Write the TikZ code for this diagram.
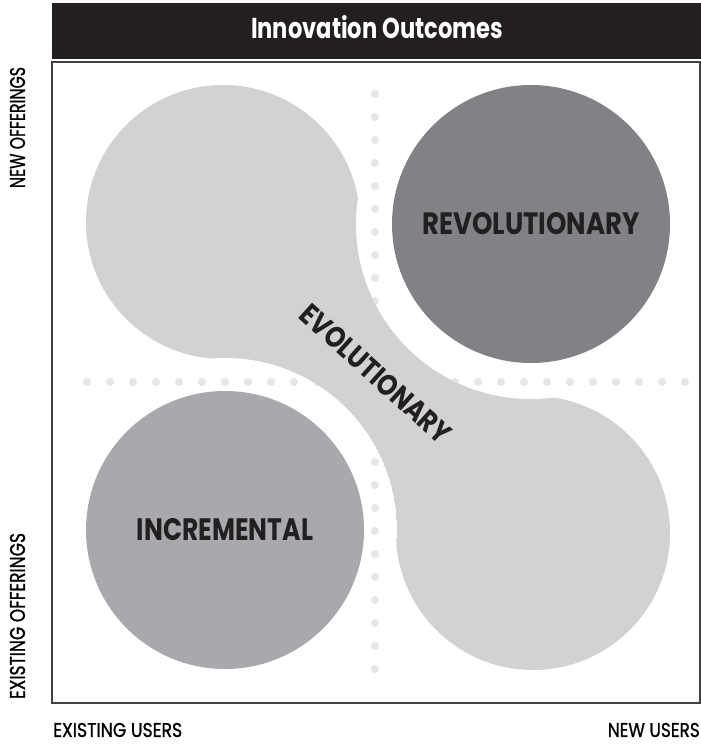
\documentclass[tikz,border=0pt]{standalone}
\usepackage{graphicx}
\usepackage{fontspec}
\setmainfont{Poppins}
\newfontfamily\axisfont{Poppins}[FakeBold=1.2]
\definecolor{ink}{HTML}{231F20}
\definecolor{framegrey}{HTML}{414042}
\definecolor{lightgrey}{HTML}{D1D2D4}
\definecolor{darkgrey}{HTML}{808285}
\definecolor{midgrey}{HTML}{A7A9AC}
\definecolor{dotgrey}{HTML}{E6E6E7}
\newcommand\griddots{%
  \foreach \k in {0,...,25} \fill[dotgrey] (375,94+23*\k) circle[radius=4];
  \foreach \k in {0,...,26} \fill[dotgrey] (87+23*\k,382) circle[radius=4];
}
\newcommand\fitto[3]{\resizebox{#1pt}{#2pt}{#3}}
\begin{document}
\begin{tikzpicture}[x=1pt,y=-1pt,
  lbl/.style={inner sep=0pt,text=ink},
  axislbl/.style={inner sep=0pt,text=black,font=\axisfont}]
\useasboundingbox (0,0) rectangle (701,744);
\coordinate (tl) at (223,222);
\coordinate (tr) at (531,224);
\coordinate (bl) at (225,530);
\coordinate (br) at (533,533);

% quadrant dividers
\griddots

% evolutionary band: two large discs joined by a neck
\fill[lightgrey] (tl) circle[radius=137];
\fill[lightgrey] (br) circle[radius=137];
\fill[lightgrey] (tl) -- (bl) -- (br) -- (tr) -- cycle;

% white halo around the two solid discs, dots show through it
\begin{scope}
  \clip (tr) circle[radius=175];
  \fill[white] (tr) circle[radius=175];
  \griddots
\end{scope}
\begin{scope}
  \clip (bl) circle[radius=172];
  \fill[white] (bl) circle[radius=172];
  \griddots
\end{scope}

\fill[darkgrey] (tr) circle[radius=139];
\fill[midgrey] (bl) circle[radius=139];

% frame and heading bar
\draw[framegrey,line width=1.3pt] (52,62) rectangle (700,703);
\fill[ink] (52,3) rectangle (701,59);
\node[inner sep=0pt,text=white] (title) at (377,27.5) {\fitto{252}{23}{\bfseries Innovation Outcomes}};

% labels
\node[lbl] (revo) at (tr) {\fitto{217}{22}{\bfseries REVOLUTIONARY}};
\node[lbl] (incr) at (bl) {\fitto{176}{22}{\bfseries INCREMENTAL}};
\node[lbl,rotate=-42] (evo) at (376,374) {\fitto{192}{21}{\bfseries EVOLUTIONARY}};

\node[axislbl,rotate=90] (newoff) at (17.5,127.5) {\fitto{121}{15}{NEW OFFERINGS}};
\node[axislbl,rotate=90] (exoff) at (17.5,616) {\fitto{166}{15}{EXISTING OFFERINGS}};
\node[axislbl,anchor=west] (exusr) at (53,730) {\fitto{129}{14}{EXISTING USERS}};
\node[axislbl,anchor=east] (newusr) at (700,730) {\fitto{92}{14}{NEW USERS}};
\end{tikzpicture}
\end{document}
